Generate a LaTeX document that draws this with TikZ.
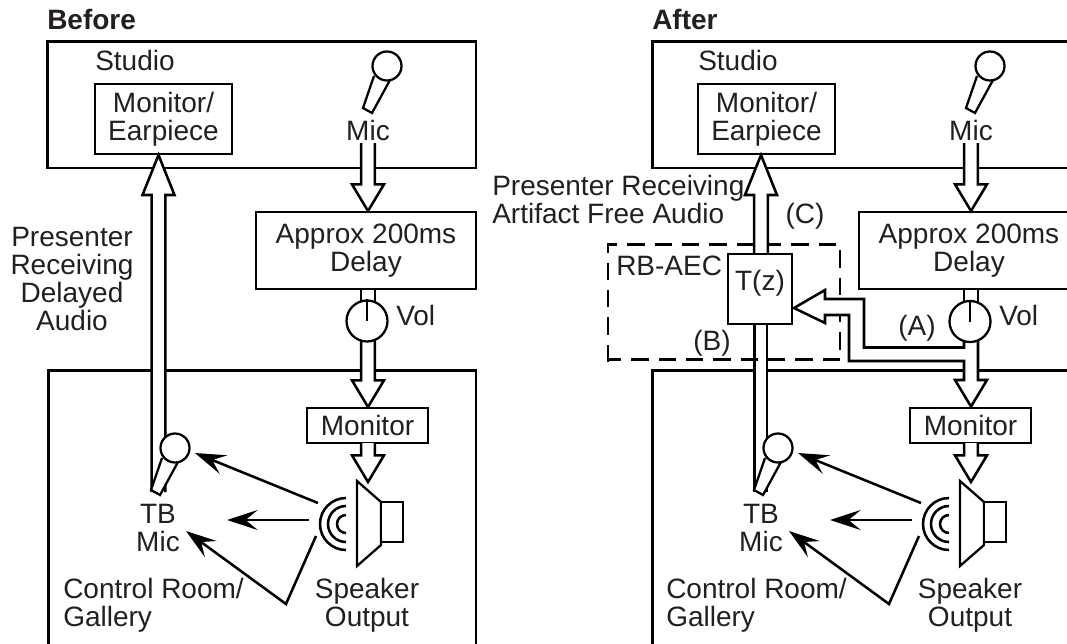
\documentclass[tikz,border=0pt]{standalone}
\usepackage{fontspec}
\setmainfont{Liberation Sans}
\usetikzlibrary{arrows.meta,calc}
\def\u{0.75pt}
\definecolor{ink}{HTML}{231F20}
\tikzset{
  x=0.75pt,y=-0.75pt,
  every node/.style={font=\fontsize{21}{21}\selectfont,text=ink},
  label/.style={inner sep=0pt,align=center},
  leftlabel/.style={inner sep=0pt,align=left,anchor=west},
  box/.style={draw=black,line width=1.9pt,fill=white,inner sep=0pt,align=center},
  outer/.style={draw=black,line width=1.9pt},
  blockline/.style={draw=black,line width=1.9pt,fill=white,line join=miter,miter limit=10},
  micpart/.style={draw=black,line width=1.7pt,fill=white},
  soundray/.style={draw=black,line width=1.9pt,-{Stealth[length=23pt,width=15pt,inset=9pt]}},
  dashbox/.style={draw=black,line width=1.9pt,dash pattern=on 13pt off 7.5pt},
}
% block arrow, tail at #1, tip at #2, head length #3 (signed, pt), half-width #4 (pt)
\newcommand\blockarrow[4]{%
  \draw[blockline] let \p1=(#1),\p2=(#2) in
    (\x2-5.2pt,\y1) -- (\x2-5.2pt,\y2+#3) -- (\x2-#4,\y2+#3) -- (\x2,\y2)
    -- (\x2+#4,\y2+#3) -- (\x2+5.2pt,\y2+#3) -- (\x2+5.2pt,\y1);
}
\newcommand\micshape[3]{% name, cx, cy
  \draw[micpart] (#2-13,#3+10) -- (#2-24,#3+42) -- (#2-15,#3+47) -- (#2+3,#3+14);
  \node[circle,micpart,minimum size=29*\u,inner sep=0pt] (#1) at (#2,#3) {};
}
% everything common to both panels; #1 = name suffix
\newcommand\panelcommon[1]{%
  \node[leftlabel] (studio#1) at (95,60) {Studio};
  \node[box,minimum width=137*\u,minimum height=70*\u] (earpiece#1) at (163.5,119) {Monitor/\\Earpiece};
  \node[label] (miclabel#1) at (368,130) {Mic};
  \micshape{mic#1}{387}{66}
  \node[box,minimum width=220*\u,minimum height=77*\u] (delay#1) at (366,250.5) {Approx 200ms\\Delay};
  \coordinate (mictail#1) at (368,143);
  \coordinate (delaytip#1) at (368,211);
  \blockarrow{mictail#1}{delaytip#1}{20pt}{12pt}
  \node[leftlabel] (vollabel#1) at (396,315) {Vol};
  \node[box,minimum width=121*\u,minimum height=35*\u] (monitor#1) at (367.5,425.5) {Monitor};
  \coordinate (montail#1) at (368,443);
  \coordinate (spktip#1) at (368,482);
  \blockarrow{montail#1}{spktip#1}{20pt}{12pt}
  \draw[micpart,line join=miter] (357,481) -- (381,502) -- (381,545) -- (357,566) -- cycle;
  \node[box,minimum width=22*\u,minimum height=40*\u] (cab#1) at (392,522) {};
  \draw[line width=1.9pt] (346,550) arc[start angle=90,end angle=270,radius=26];
  \draw[line width=1.9pt] (346,542) arc[start angle=90,end angle=270,radius=18];
  \draw[line width=1.9pt] (346,533) arc[start angle=90,end angle=270,radius=9];
  \node[label] (tblabel#1) at (158,528) {TB\\Mic};
  \node[leftlabel] (room#1) at (63,605) {Control Room/\\Gallery};
  \node[label] (spklabel#1) at (367,605) {Speaker\\Output};
  \coordinate (rayAs#1) at (318,503);
  \coordinate (rayAe#1) at (195,453);
  \coordinate (rayBs#1) at (309,520);
  \coordinate (rayBe#1) at (227,520);
  \coordinate (rayCs#1) at (316,536);
  \coordinate (rayCm#1) at (286,604);
  \coordinate (rayCe#1) at (186,531);
  \draw[soundray] (rayAs#1) -- (rayAe#1);
  \draw[soundray] (rayBs#1) -- (rayBe#1);
  \draw[soundray,line join=miter] (rayCs#1) -- (rayCm#1) -- (rayCe#1);
}
\begin{document}
\begin{tikzpicture}
\useasboundingbox (0,0) rectangle (1067,643);
\clip (0,0) rectangle (1067,643);
% ---------- LEFT
\node[leftlabel,font=\fontsize{21}{21}\selectfont\bfseries] (before) at (47,19) {Before};
\draw[outer] (47.5,41.5) rectangle (476,168);
\draw[outer] (48.5,660) -- (48.5,370.5) -- (476,370.5) -- (476,660);
\panelcommon{L}
\coordinate (retL) at (158.5,492);
\coordinate (rettipL) at (158.5,155);
\blockarrow{retL}{rettipL}{-30pt}{12pt}
\micshape{tbL}{175}{448}
\node[label] (presL) at (72,279) {Presenter\\Receiving\\Delayed\\Audio};
\coordinate (delayoutL) at (368,289);
\coordinate (volinL) at (368,306);
\draw[blockline] (361,289) -- (361,306) (375,289) -- (375,306);
\coordinate (voloutL) at (368,338);
\coordinate (montipL) at (368,407);
\blockarrow{voloutL}{montipL}{20pt}{12pt}
\node[circle,micpart,minimum size=41*\u,inner sep=0pt] (volL) at (367,321) {};
\draw[line width=1.4pt] (volL.north) -- (volL.center);
% ---------- RIGHT
\node[leftlabel,font=\fontsize{21}{21}\selectfont\bfseries] (after) at (652,19) {After};
\draw[outer] (652.5,41.5) rectangle (1090,168);
\draw[outer] (652.5,660) -- (652.5,370.5) -- (1090,370.5);
\begin{scope}[shift={(603,0)}]
\panelcommon{R}
\end{scope}
% lower part of the return path, under the dashed box
\coordinate (retR) at (761,492);
\coordinate (tzbot) at (761,324);
\fill[white] (755.5,324) rectangle (766,492);
\draw[blockline] (754.5,492) -- (754.5,324) (767,324) -- (767,492);
\draw[dashbox] (608,362) -- (608,244.5) -- (840,244.5) -- (840,359.5) -- (608,359.5);
\coordinate (rettipR) at (761,155);
\coordinate (tztop) at (761,254);
\blockarrow{tztop}{rettipR}{-30pt}{12pt}
\begin{scope}[shift={(603,0)}]
\micshape{tbR}{175}{448}
\end{scope}
\node[box,minimum width=64*\u,minimum height=70*\u] (tz) at (760,289) {};
\node[label] (tzlabel) at (760,283) {T(z)};
\node[leftlabel] (aec) at (616,266) {RB-AEC};
\node[leftlabel] (presR) at (492,199.5) {Presenter Receiving\\Artifact Free Audio};
\node[label] (labC) at (805,216) {(C)};
\node[label] (labB) at (712,343) {(B)};
\node[label] (labA) at (917,328) {(A)};
\draw[blockline] (964,289) -- (964,306) (978,289) -- (978,306);
% tapped feed and main path
\coordinate (taptip) at (794,308);
\draw[blockline] (taptip) -- (825,290) -- (825,299) -- (864,299) -- (864,347.5) -- (964,347.5)
  -- (964,335) -- (978,335) -- (978,380) -- (987,380) -- (971,406.5) -- (955,380) -- (964,380)
  -- (964,361) -- (849,361) -- (849,315) -- (825,315) -- (825,323) -- cycle;
\node[circle,micpart,minimum size=41*\u,inner sep=0pt] (volR) at (970,321.5) {};
\draw[line width=1.4pt] (volR.north) -- (volR.center);
\end{tikzpicture}
\end{document}
